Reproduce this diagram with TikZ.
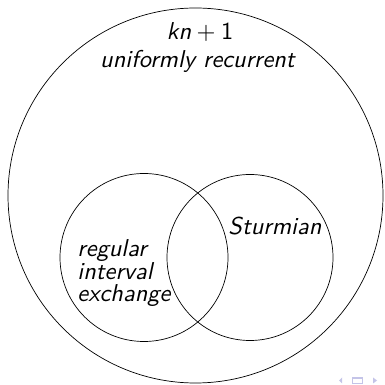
\documentclass[tikz,border=0pt]{standalone}
\usetikzlibrary{calc}
\definecolor{navcol}{RGB}{196,196,232}
\begin{document}
\begin{tikzpicture}[x=1pt,y=1pt,
  venn/.style={draw=black,line width=0.7pt},
  lbl/.style={inner sep=0pt,anchor=base,scale=2.44,transform shape,font=\fontsize{10}{12}\selectfont\sffamily\itshape},
  lblw/.style={lbl,anchor=base west},
  nav/.style={fill=navcol,draw=none}]
\useasboundingbox (0,0) rectangle (384,385);
\begin{scope}
\clip (0,0) rectangle (384,385);
\draw[venn] (195.5,189.5) circle (187.5);
\end{scope}
\draw[venn] (144,127.5) circle (84);
\draw[venn] (250,127.5) circle (83);
\node[lbl] (kn) at (200,345) {kn${}+{}$\upshape 1};
\node[lbl] (ur) at (197.5,317) {uniformly recurrent};
\node[lblw] (st) at (228,150) {Sturmian};
\node[lblw] (r1) at (77,128) {regular};
\node[lblw] (r2) at (77,105.5) {interval};
\node[lblw] (r3) at (77,83) {exchange};
\fill[nav] (339,4.5) -- (342,7.5) -- (342,1.5) -- cycle;
\draw[navcol,line width=1.2pt] (352.6,1.6) rectangle (362.4,6.9);
\fill[nav] (377,4.5) -- (373,7.5) -- (373,1.5) -- cycle;
\end{tikzpicture}
\end{document}
